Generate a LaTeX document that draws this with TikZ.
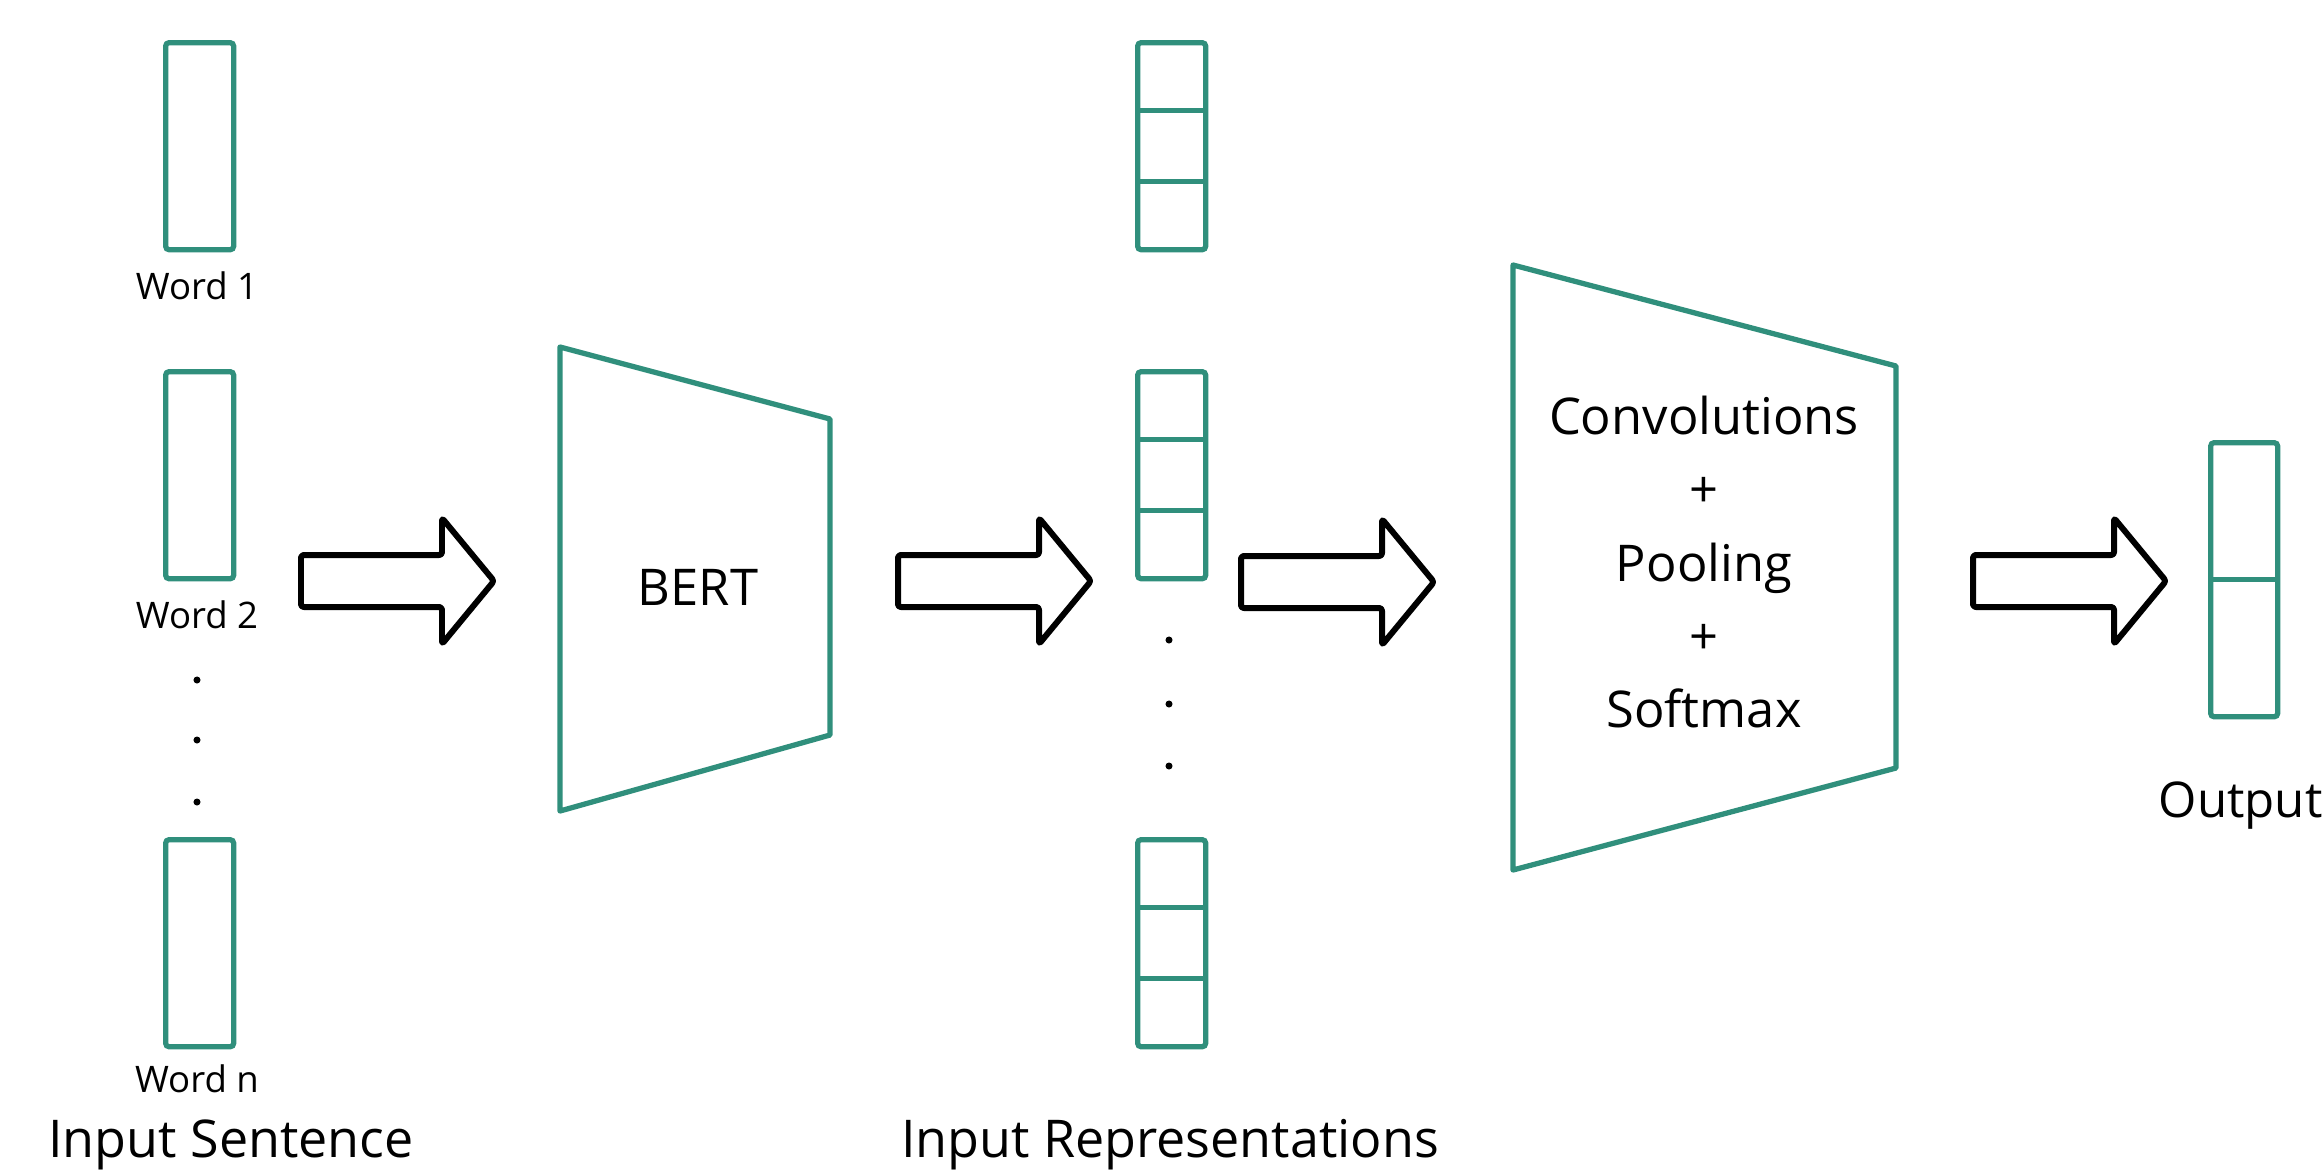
\documentclass[tikz,border=0pt]{standalone}
\usepackage{fontspec}
\setmainfont{Open Sans}
\usetikzlibrary{calc}
\definecolor{tealc}{RGB}{48,143,124}
\begin{document}
\begin{tikzpicture}[x=0.01cm,y=-0.01cm,
  tealline/.style={draw=tealc, line width=1.5pt, rounded corners=1pt},
  wordbox/.style={tealline, minimum width=0.68cm, minimum height=2.07cm, inner sep=0pt, anchor=north west},
  repbox/.style={tealline, minimum width=0.68cm, minimum height=2.07cm, inner sep=0pt, anchor=north west},
  wlabel/.style={font=\fontsize{10.4}{12}\selectfont, inner sep=0pt},
  biglabel/.style={font=\fontsize{14.8}{17}\selectfont, inner sep=0pt, anchor=base},
  midlabel/.style={font=\fontsize{14.4}{20.8}\selectfont, inner sep=0pt, align=center},
  dotmark/.style={circle, fill=black, inner sep=0pt, minimum size=2pt},
  trap/.style={draw=tealc, line width=1.5pt, line join=round},
  barrow/.pic={\draw[line width=1.7pt, line join=round, rounded corners=0.8pt]
     (0,-26) -- (141,-26) -- (141,-63) -- (193,0) -- (141,63) -- (141,26) -- (0,26) -- cycle;}
]
\useasboundingbox (0,0) rectangle (2324,1175);

% input words
\node[wordbox] (w1) at (163,40) {};
\node[wlabel] (w1l) at (197,286) {Word 1};
\node[wordbox] (w2) at (163,369) {};
\node[wlabel] (w2l) at (197,615) {Word 2};
\node[dotmark] (d1) at (197,680) {};
\node[dotmark] (d2) at (197,740) {};
\node[dotmark] (d3) at (197,802) {};
\node[wordbox] (wn) at (163,837) {};
\node[wlabel] (wnl) at (197,1079) {Word n};
\node[biglabel] (insent) at (231,1157) {Input Sentence};

% arrow 1
\pic at (301,581) {barrow};

% BERT
\coordinate (b1) at (560,347);
\coordinate (b2) at (830,419);
\coordinate (b3) at (830,735);
\coordinate (b4) at (560,811);
\draw[trap] (b1) -- (b2) -- (b3) -- (b4) -- cycle;
\node[midlabel] (bert) at (698,587) {BERT};

% arrow 2
\pic at (898,581) {barrow};

% representations
\foreach \n/\y in {rA/40, rB/369, rC/837} {
  \node[repbox] (\n) at (1135,\y) {};
  \draw[tealline] ($(\n.north west)!0.333!(\n.south west)$) -- ($(\n.north east)!0.333!(\n.south east)$);
  \draw[tealline] ($(\n.north west)!0.667!(\n.south west)$) -- ($(\n.north east)!0.667!(\n.south east)$);
}
\node[dotmark] (e1) at (1169,640) {};
\node[dotmark] (e2) at (1169,704) {};
\node[dotmark] (e3) at (1169,766) {};
\node[biglabel] (inrep) at (1170,1157) {Input Representations};

% arrow 3
\pic at (1241,582) {barrow};

% conv block
\coordinate (c1) at (1513,265);
\coordinate (c2) at (1896,366);
\coordinate (c3) at (1896,768);
\coordinate (c4) at (1513,870);
\draw[trap] (c1) -- (c2) -- (c3) -- (c4) -- cycle;
\node[midlabel] (conv) at (1704,562) {Convolutions\\+\\Pooling\\+\\Softmax};

% arrow 4
\pic at (1973,581) {barrow};

% output
\node[tealline, minimum width=0.67cm, minimum height=2.74cm, inner sep=0pt, anchor=north west] (out) at (2208,440) {};
\draw[tealline] (out.west) -- (out.east);
\node[biglabel, font=\fontsize{14}{17}\selectfont, anchor=base west] (outl) at (2158,817) {Output};
\end{tikzpicture}
\end{document}
